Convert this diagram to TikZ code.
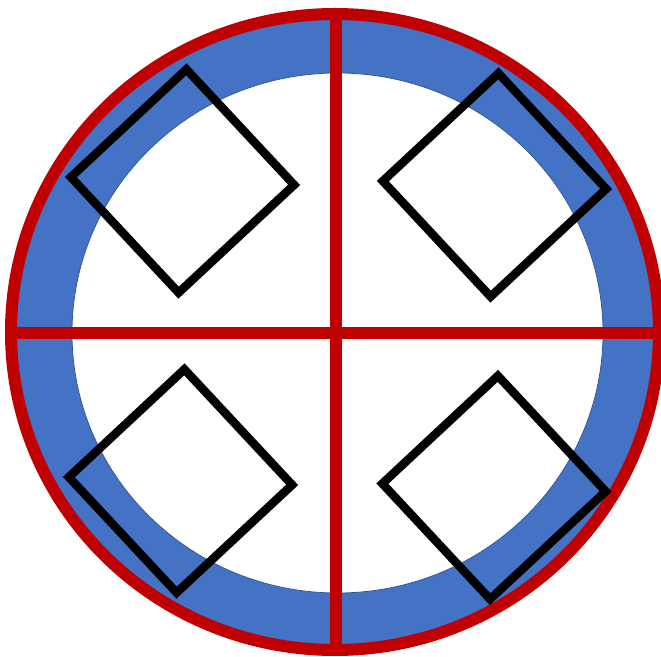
\documentclass[tikz,border=0pt]{standalone}
\usepackage{xcolor}
\definecolor{ring-blue}{HTML}{4472C4}
\definecolor{ring-edge}{HTML}{2F528F}
\definecolor{cross-red}{HTML}{C00000}

\begin{document}
\begin{tikzpicture}[x=1pt, y=1pt,
        tilebox/.style={draw=black, line width=8.5pt, rectangle, inner sep=0pt,
                        minimum size=158pt, rotate=43}]
      \useasboundingbox (0,0) rectangle (661,656);
      % ring with inner hole
      \draw[draw=cross-red, line width=12pt, fill=ring-blue] (335,324) ellipse [x radius=324, y radius=318];
      \draw[draw=ring-edge, line width=0.75pt, fill=white] (337.5,323) ellipse [x radius=265.5, y radius=260];
      % cross
      \coordinate (N) at (336,642);
      \coordinate (S) at (336,6);
      \coordinate (W) at (11,323);
      \coordinate (E) at (659,323);
      \draw[cross-red, line width=12.5pt] (N) -- (S);
      \draw[cross-red, line width=12.5pt] (W) -- (E);
      % the four squares
      \node[tilebox] (TL) at (182.5,475) {};
      \node[tilebox] (TR) at (494.5,471) {};
      \node[tilebox] (BL) at (180.5,175) {};
      \node[tilebox] (BR) at (494,168.5) {};
    \end{tikzpicture}
\end{document}
